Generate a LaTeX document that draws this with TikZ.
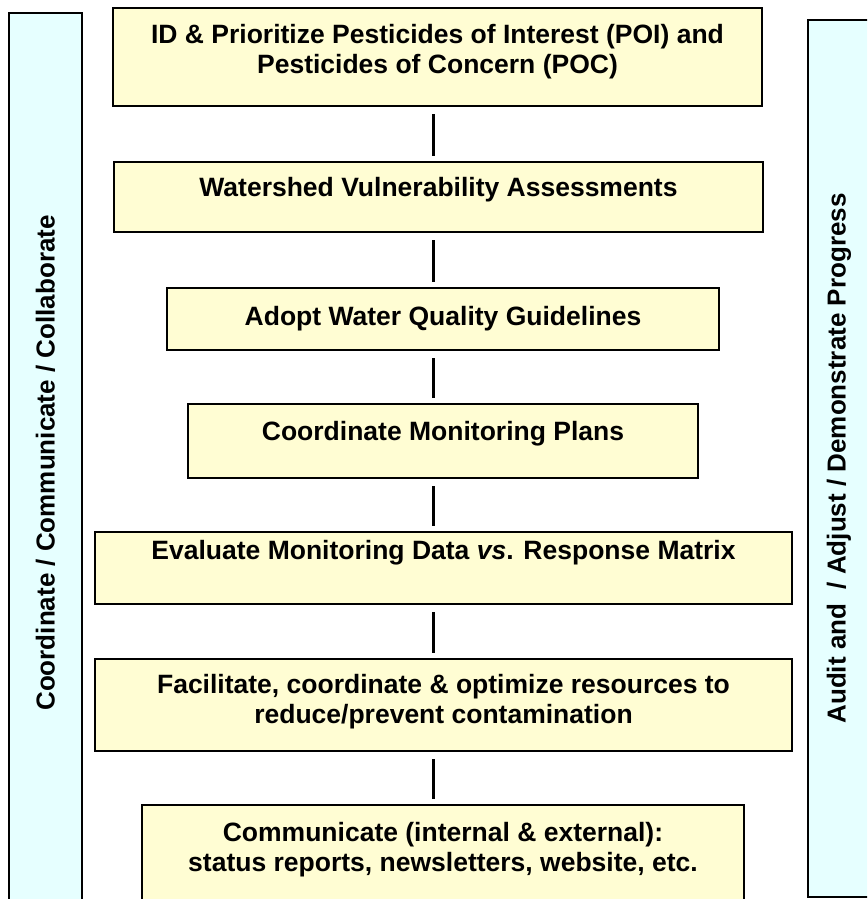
\documentclass[tikz,border=0pt]{standalone}
\usepackage{fontspec}
\setmainfont{Liberation Sans}
\usetikzlibrary{positioning}
\definecolor{boxfill}{HTML}{FFFDD3}
\definecolor{barfill}{HTML}{E6FFFF}

\begin{document}
\begin{tikzpicture}[x=1pt,y=1pt]
\tikzstyle{every node}+=[inner sep=0pt]
\tikzstyle{stage}=[draw=black, line width=2pt, fill=boxfill]
\tikzstyle{stagetext}=[font=\fontsize{26.5}{30}\selectfont\bfseries, align=center]
\tikzstyle{sidebar}=[draw=black, line width=2pt, fill=barfill, rotate=90, font=\fontsize{26}{30}\selectfont\bfseries]
\tikzstyle{link}=[black, line width=3pt, shorten <=7pt, shorten >=5pt]
\useasboundingbox (0,0) rectangle (867,-899);
\clip (0,0) rectangle (867,-899);
\node[sidebar, minimum width=900, minimum height=73] (coord) at (45.5,-463) {Coordinate / Communicate / Collaborate};
\node[sidebar, minimum width=877, minimum height=62] (audit) at (839,-458.5) {Audit and\ \ / Adjust / Demonstrate Progress};
\node[stage, minimum width=649, minimum height=98] (poi) at (437.5,-57) {};
\node[stagetext, below=17pt of poi.north] (poitext) {ID \& Prioritize Pesticides of Interest (POI) and\\Pesticides of Concern (POC)};
\node[stage, minimum width=649, minimum height=70] (watershed) at (438.5,-197) {};
\node[stagetext, below=16pt of watershed.north] (watershedtext) {Watershed Vulnerability Assessments};
\node[stage, minimum width=552, minimum height=62] (guidelines) at (443,-319) {};
\node[stagetext, below=19pt of guidelines.north] (guidelinestext) {Adopt Water Quality Guidelines};
\node[stage, minimum width=510, minimum height=74] (monitoring) at (443,-441) {};
\node[stagetext, below=18pt of monitoring.north] (monitoringtext) {Coordinate Monitoring Plans};
\node[stage, minimum width=697, minimum height=72] (evaluate) at (443.5,-568) {};
\node[stagetext, below=9pt of evaluate.north] (evaluatetext) {Evaluate Monitoring Data \textit{vs}. Response Matrix};
\node[stage, minimum width=697, minimum height=92] (resources) at (443.5,-705) {};
\node[stagetext, below=16pt of resources.north] (resourcestext) {Facilitate, coordinate \& optimize resources to\\reduce/prevent contamination};
\node[stage, minimum width=602, minimum height=130] (communicate) at (443,-870) {};
\node[stagetext, below=18pt of communicate.north] (communicatetext) {Communicate (internal \& external):\\status reports, newsletters, website, etc.};
\coordinate (lx) at (433,0);
\draw[link] (poi.south -| lx) -- (watershed.north -| lx);
\draw[link] (watershed.south -| lx) -- (guidelines.north -| lx);
\draw[link] (guidelines.south -| lx) -- (monitoring.north -| lx);
\draw[link] (monitoring.south -| lx) -- (evaluate.north -| lx);
\draw[link] (evaluate.south -| lx) -- (resources.north -| lx);
\draw[link] (resources.south -| lx) -- (communicate.north -| lx);
\end{tikzpicture}
\end{document}
